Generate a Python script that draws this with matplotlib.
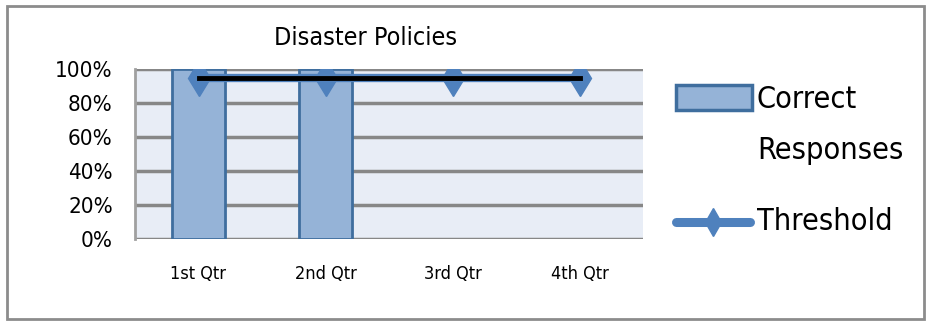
import matplotlib.pyplot as plt
from matplotlib.patches import Rectangle
from matplotlib.lines import Line2D
import numpy as np

quarters = ['1st Qtr', '2nd Qtr', '3rd Qtr', '4th Qtr']
correct = [1.00, 1.00, 0.0, 0.0]
threshold = [0.95, 0.95, 0.95, 0.95]
yticks = [0, 0.2, 0.4, 0.6, 0.8, 1.0]

plt.rcParams['font.family'] = ['DejaVu Sans']
plt.rcParams['font.stretch'] = 'condensed'

W, H = 932, 324
fig = plt.figure(figsize=(W / 100, H / 100), dpi=100)


def fx(px):
    return px / W


def fy(py):
    return 1 - py / H


fig.patches.append(Rectangle((0.008, 0.015), 0.983, 0.968, transform=fig.transFigure,
                             fill=False, edgecolor='#8c8c8c', linewidth=2))

ax = fig.add_axes([fx(135), fy(239), fx(643) - fx(135), fy(69) - fy(239)])
ax.set_facecolor('#e8edf6')
x = np.arange(len(quarters))

bar_fill, bar_edge, line_col = '#95b3d7', '#3f6e9e', '#4f81bd'

# zero-height bars get no outline
edges = [2 if v > 0 else 0 for v in correct]
ax.bar(x, correct, width=0.42, color=bar_fill, edgecolor=bar_edge, linewidth=edges, zorder=3)
ax.plot(x, threshold, color=line_col, linewidth=6, zorder=4, solid_capstyle='round')
ax.plot(x, threshold, color='black', linewidth=3.5, zorder=5)
ax.plot(x, threshold, linestyle='none', marker='d', markersize=18, color=line_col,
        markeredgecolor=line_col, zorder=4)

ax.set_xlim(-0.5, 3.5)
ax.set_ylim(0, 1.0)
ax.set_yticks(yticks)
ax.set_yticklabels([f'{int(v * 100)}%' for v in yticks], fontsize=16)
ax.set_xticks(x)
ax.set_xticklabels(quarters, fontsize=13)
ax.tick_params(axis='both', length=0)
ax.tick_params(axis='y', pad=16)
ax.tick_params(axis='x', pad=19)

ax.grid(axis='y', color='#878787', linewidth=2.5, zorder=1)
ax.set_axisbelow(True)
for side in ['top', 'right', 'bottom']:
    ax.spines[side].set_visible(False)
ax.spines['left'].set_color('#a0a0a0')
ax.spines['left'].set_linewidth(2)

ax.set_title('Disaster Policies', fontsize=18, pad=17, x=0.453)

# legend entries placed by hand
fig.patches.append(Rectangle((fx(676), fy(110)), fx(752) - fx(676), fy(85) - fy(110),
                             transform=fig.transFigure, facecolor=bar_fill,
                             edgecolor=bar_edge, linewidth=2.5))
fig.text(fx(757), fy(99), 'Correct', fontsize=22, va='center', ha='left')
fig.text(fx(757), fy(150), 'Responses', fontsize=22, va='center', ha='left')
fig.lines.append(Line2D([fx(676), fx(750)], [fy(222), fy(222)], transform=fig.transFigure,
                        color=line_col, linewidth=6.5, solid_capstyle='round'))
fig.lines.append(Line2D([fx(713)], [fy(222)], transform=fig.transFigure, marker='d',
                        markersize=14, color=line_col, linestyle='none'))
fig.text(fx(757), fy(222), 'Threshold', fontsize=22, va='center', ha='left')

fig.savefig('out.png', dpi=100)
